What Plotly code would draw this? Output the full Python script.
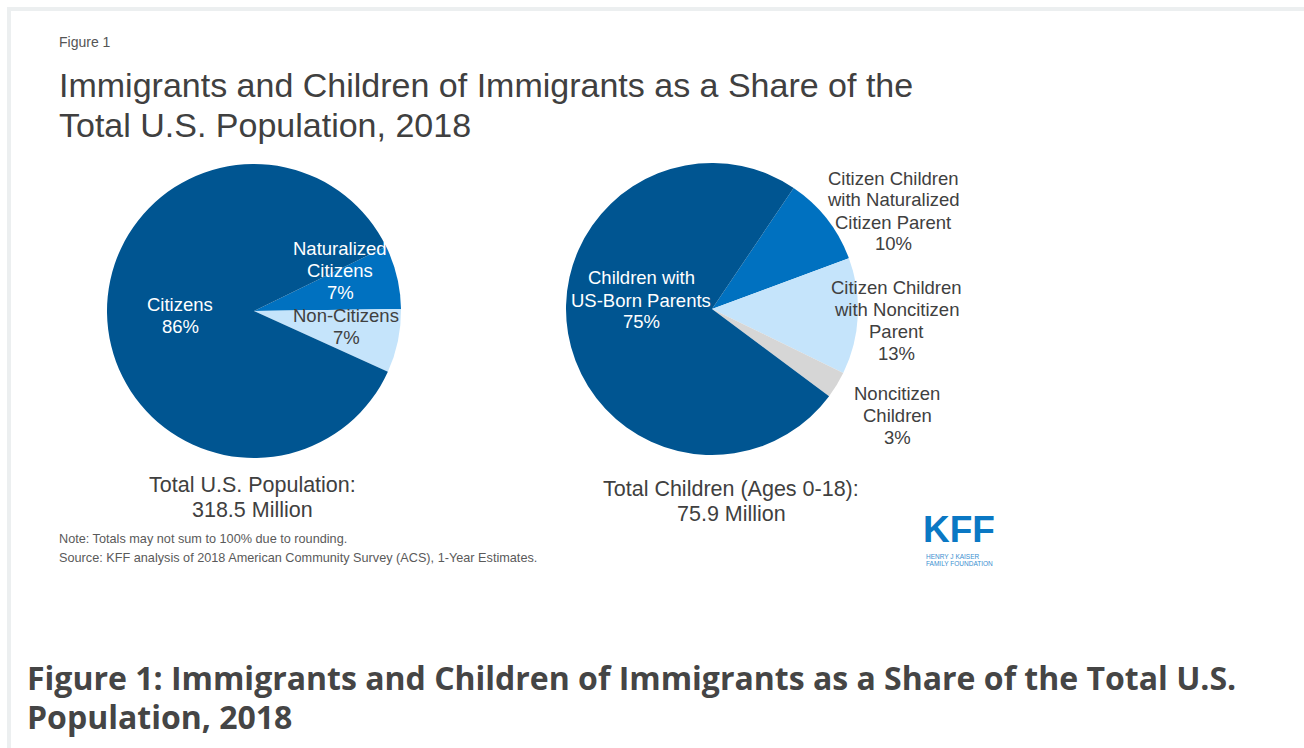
import plotly.graph_objects as go

W, H = 1304, 748

# ---- data ----
pop_labels = ["Naturalized<br>Citizens", "Non-Citizens", "Citizens"]
pop_values = [7, 7, 86]
pop_total_label = "Total U.S. Population:<br>318.5 Million"

kid_labels = [
    "Citizen Children<br>with Naturalized<br>Citizen Parent",
    "Citizen Children<br>with Noncitizen<br>Parent",
    "Noncitizen<br>Children",
    "Children with<br>US-Born Parents",
]
kid_values = [10, 13, 3, 75]
kid_total_label = "Total Children (Ages 0-18):<br>75.9 Million"

title_text = "Immigrants and Children of Immigrants as a Share of the<br>Total U.S. Population, 2018"
note_text = "Note: Totals may not sum to 100% due to rounding."
source_text = "Source: KFF analysis of 2018 American Community Survey (ACS), 1-Year Estimates."
caption_text = ("Figure 1: Immigrants and Children of Immigrants as a Share of the Total U.S.<br>"
                "Population, 2018")

# ---- styling ----
DARK = "#005591"
MID = "#0071c0"
LIGHT = "#c5e4fb"
GRAY = "#d6d6d6"
TXT = "#404040"
FONT = "Liberation Sans, Arial, sans-serif"

pop_colors = [MID, LIGHT, DARK]
kid_colors = [MID, LIGHT, GRAY, DARK]

# label placement (pixel centres) and colours for each slice label
pop_label_pos = [(340, 270), (346, 326), (180, 315)]
pop_label_col = ["white", TXT, "white"]
kid_label_pos = [(893, 211), (896, 320), (897, 415), (641, 300)]
kid_label_col = [TXT, TXT, TXT, "white"]


def px(x):
    return x / W


def py(y):
    return 1 - y / H


def pie_domain(cx, cy, r):
    return dict(x=[px(cx - r), px(cx + r)], y=[py(cy + r), py(cy - r)])


fig = go.Figure()

fig.add_trace(go.Pie(
    labels=pop_labels, values=pop_values, sort=False, direction="clockwise",
    rotation=64, marker=dict(colors=pop_colors, line=dict(width=0)),
    textinfo="none", hoverinfo="label+percent", showlegend=False,
    domain=pie_domain(254, 311, 147),
))
fig.add_trace(go.Pie(
    labels=kid_labels, values=kid_values, sort=False, direction="clockwise",
    rotation=34, marker=dict(colors=kid_colors, line=dict(width=0)),
    textinfo="none", hoverinfo="label+percent", showlegend=False,
    domain=pie_domain(712, 309, 146),
))

ann = []


def text(x, y, s, size, color=TXT, family=FONT, xanchor="center", yanchor="middle", align="center"):
    ann.append(dict(x=px(x), y=py(y), xref="paper", yref="paper", text=s, showarrow=False,
                    font=dict(size=size, color=color, family=family),
                    xanchor=xanchor, yanchor=yanchor, align=align))


def lines(x, y, s, size, step, **kw):
    """Place a <br>-separated block line by line, centred vertically on y."""
    parts = s.split("<br>")
    y0 = y - step * (len(parts) - 1) / 2
    for i, p in enumerate(parts):
        text(x, y0 + i * step, p, size, **kw)


for lab, val, (x, y), c in zip(pop_labels, pop_values, pop_label_pos, pop_label_col):
    lines(x, y, f"{lab}<br>{val}%", 18.5, 22, color=c)
for lab, val, (x, y), c in zip(kid_labels, kid_values, kid_label_pos, kid_label_col):
    lines(x, y, f"{lab}<br>{val}%", 18.5, 22, color=c)

lines(252, 497, pop_total_label, 21.5, 25)
lines(731, 501, kid_total_label, 21.5, 25)

text(57, 42, "Figure 1", 14, color="#555555", xanchor="left")
lines(57, 105, title_text, 34, 40, xanchor="left")
text(57, 539, note_text, 12.7, color="#5a5a5a", xanchor="left")
text(57, 558, source_text, 12.7, color="#5a5a5a", xanchor="left")

# logo
text(959, 529, "<b>KFF</b>", 37, color="#0a78c4", family="Liberation Sans Narrow, Arial Narrow, sans-serif")
text(924, 556, "HENRY J KAISER", 6.5, color="#3a8fd0", xanchor="left")
text(924, 563.5, "FAMILY FOUNDATION", 6.5, color="#3a8fd0", xanchor="left")

lines(25, 697, "<b>" + caption_text.split("<br>")[0] + "</b><br><b>" + caption_text.split("<br>")[1] + "</b>",
      32, 39, color="#454545", family="Open Sans, sans-serif", xanchor="left")

fig.update_layout(
    width=W, height=H, margin=dict(l=0, r=0, t=0, b=0),
    paper_bgcolor="white", plot_bgcolor="white",
    annotations=ann,
    shapes=[
        dict(type="rect", xref="paper", yref="paper", x0=px(7), x1=1, y0=py(11), y1=py(7),
             fillcolor="#eceff0", line=dict(width=0), layer="below"),
        dict(type="rect", xref="paper", yref="paper", x0=px(7), x1=px(11), y0=0, y1=py(7),
             fillcolor="#eceff0", line=dict(width=0), layer="below"),
    ],
)

fig.write_html("out.html")
